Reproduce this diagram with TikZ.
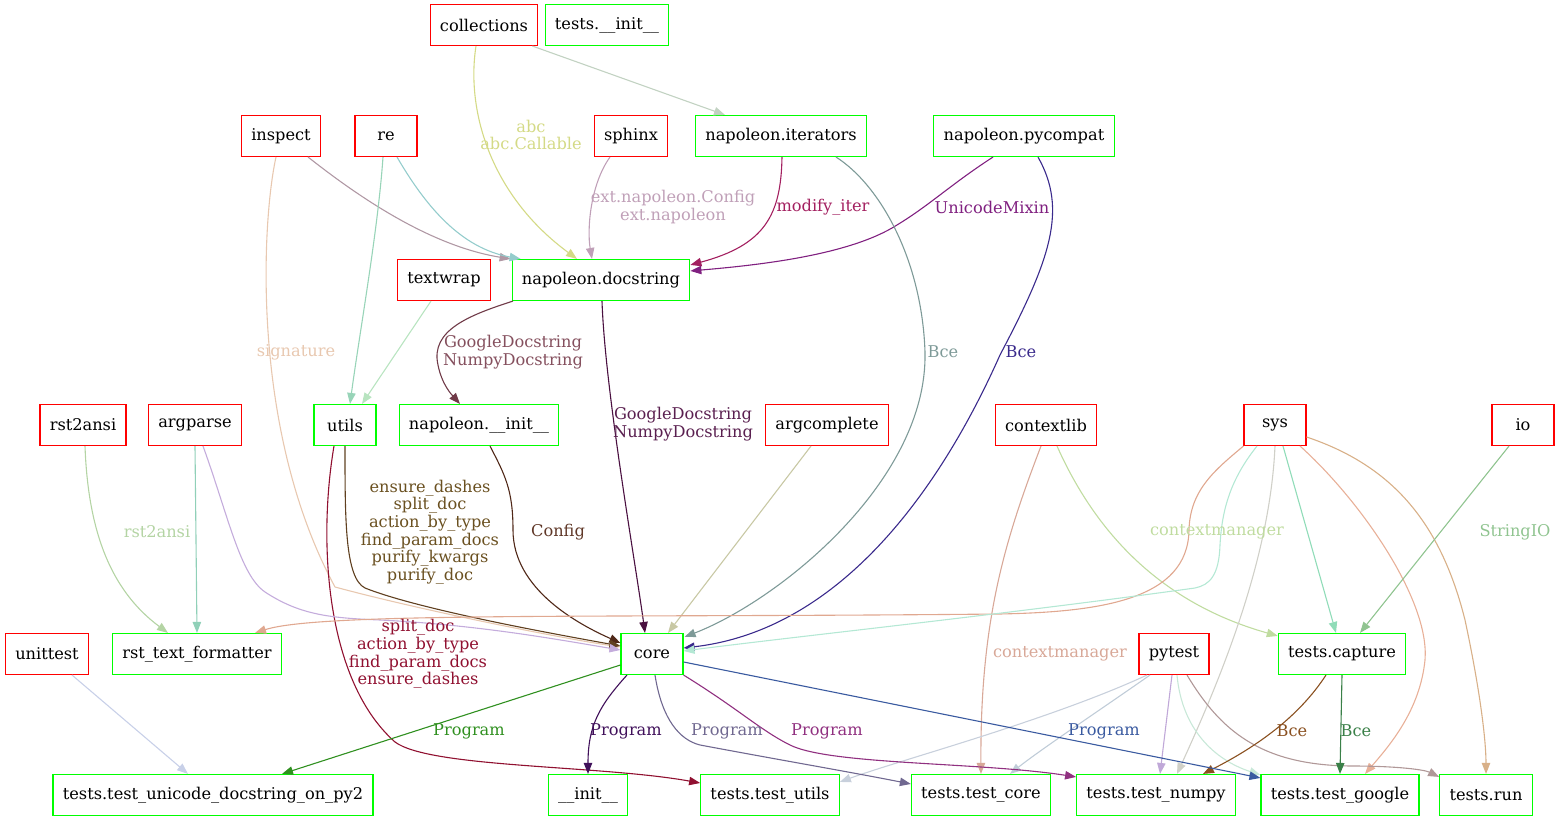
\documentclass[tikz,border=0pt]{standalone}
\usepackage{fontspec}
\setmainfont{DejaVu Serif}
\usepackage{tikz}
\usetikzlibrary{arrows.meta}
\usetikzlibrary{calc}
\usepackage{xcolor}

\definecolor{cAbc}{HTML}{D4DA86}
\definecolor{cColIt}{HTML}{C2D2C2}
\definecolor{cInsp}{HTML}{B098A4}
\definecolor{cRe}{HTML}{94CCCC}
\definecolor{cSig}{HTML}{E8C8B0}
\definecolor{cReU}{HTML}{98D4B8}
\definecolor{cTw}{HTML}{B8E4C0}
\definecolor{cSph}{HTML}{C0A0B8}
\definecolor{cIter}{HTML}{A32060}
\definecolor{cPyc}{HTML}{802080}
\definecolor{cItCore}{HTML}{7E9A98}
\definecolor{cPycCore}{HTML}{3A2A8C}
\definecolor{cDsInit}{HTML}{703A48}
\definecolor{cDsInitL}{HTML}{85505E}
\definecolor{cDsCore}{HTML}{4A1040}
\definecolor{cDsCoreL}{HTML}{5A2050}
\definecolor{cInitCore}{HTML}{502818}
\definecolor{cInitCoreL}{HTML}{603828}
\definecolor{cUtCore}{HTML}{604020}
\definecolor{cUtCoreL}{HTML}{6A5020}
\definecolor{cUtTest}{HTML}{901030}
\definecolor{cRstA}{HTML}{B4D4A4}
\definecolor{cArgR}{HTML}{90D0B8}
\definecolor{cArgC}{HTML}{C4ACDC}
\definecolor{cArgCo}{HTML}{C8C8A4}
\definecolor{cSysR}{HTML}{E0A890}
\definecolor{cSysC}{HTML}{B4E8D4}
\definecolor{cSysCap}{HTML}{90DCB8}
\definecolor{cSysNp}{HTML}{D0D0C8}
\definecolor{cSysGo}{HTML}{E8B098}
\definecolor{cSysRun}{HTML}{D8B088}
\definecolor{cIo}{HTML}{90C490}
\definecolor{cCtxCap}{HTML}{C0DCA0}
\definecolor{cCtxCo}{HTML}{D8A898}
\definecolor{cPyU}{HTML}{C8D0DC}
\definecolor{cPyC}{HTML}{C0CCD8}
\definecolor{cPyN}{HTML}{C0A8D8}
\definecolor{cPyG}{HTML}{C8E8D8}
\definecolor{cPyR}{HTML}{B09898}
\definecolor{cCapN}{HTML}{8A5020}
\definecolor{cCapG}{HTML}{3A8048}
\definecolor{cUni}{HTML}{C8D0E8}
\definecolor{cCoreU}{HTML}{309020}
\definecolor{cCoreI}{HTML}{40105A}
\definecolor{cCoreC}{HTML}{706890}
\definecolor{cCoreN}{HTML}{903080}
\definecolor{cCoreG}{HTML}{3A5AA0}

\begin{document}
\begin{tikzpicture}[x=0.5pt,y=-0.5pt,
  box/.style={rectangle, line width=0.55pt, minimum height=20.5pt, minimum width=31pt,
    inner xsep=4.9pt, font=\fontsize{8.1}{9}\selectfont},
  ext/.style={box, draw=red},
  mod/.style={box, draw=green},
  dep/.style={line width=0.55pt, -{Triangle[length=5.5pt,width=4.2pt]}},
  lbl/.style={inner sep=0pt, align=center, font=\fontsize{8.1}{8.8}\selectfont}]
\useasboundingbox (0,0) rectangle (1560,822);

% modules
\node [ext] (collections) at (484,25) {collections};
\node [mod] (testsinit) at (607,25) {tests.\_\_init\_\_};
\node [ext] (inspect) at (281,136) {inspect};
\node [ext] (re) at (386,136) {re};
\node [ext] (sphinx) at (631,136) {sphinx};
\node [mod] (iterators) at (781,136) {napoleon.iterators};
\node [mod] (pycompat) at (1024,136) {napoleon.pycompat};
\node [ext] (textwrap) at (444,280) {textwrap};
\node [mod] (docstring) at (601,280) {napoleon.docstring};
\node [ext] (rsttwoansi) at (83,425) {rst2ansi};
\node [ext] (argparse) at (195,425) {argparse};
\node [mod] (utils) at (345,425) {utils};
\node [mod] (napinit) at (479,425) {napoleon.\_\_init\_\_};
\node [ext] (argcomplete) at (827,425) {argcomplete};
\node [ext] (contextlib) at (1046,425) {contextlib};
\node [ext] (sys) at (1275,425) {sys};
\node [ext] (io) at (1523,425) {io};
\node [ext] (unittest) at (47,654) {unittest};
\node [mod] (rsttf) at (197,654) {rst\_text\_formatter};
\node [mod] (core) at (652,654) {core};
\node [ext] (pytest) at (1174,654) {pytest};
\node [mod] (capture) at (1342,654) {tests.capture};
\node [mod] (unicode) at (213,795) {tests.test\_unicode\_docstring\_on\_py2};
\node [mod] (init) at (588,795) {\_\_init\_\_};
\node [mod] (testutils) at (770,795) {tests.test\_utils};
\node [mod] (testcore) at (981,795) {tests.test\_core};
\node [mod] (testnumpy) at (1156,795) {tests.test\_numpy};
\node [mod] (testgoogle) at (1340,795) {tests.test\_google};
\node [mod] (testrun) at (1486,795) {tests.run};

% imports
\draw [dep] [cAbc] ($(collections.south)+(-8,0)$) .. controls (466,110) and (490,195) .. ($(docstring.north)+(-24,0)$);
\draw [dep] [cColIt] ($(collections.south east)+(-6,0)$) -- ($(iterators.north)+(-56,0)$);
\draw [dep] [cInsp] ($(inspect.south)+(27,0)$) .. controls (350,190) and (425,245) .. ($(docstring.north west)+(-1,0)$);
\draw [dep] [cRe] ($(re.south)+(11,0)$) .. controls (425,205) and (460,248) .. ($(docstring.north west)+(9,0)$);
\draw [dep] [cSig] ($(inspect.south)+(-5,0)$) .. controls (262,220) and (250,430) .. (335,587) .. controls (420,610) and (560,638) .. ($(core.west)+(0,-7)$);
\draw [dep] [cReU] ($(re.south)+(-3,0)$) .. controls (378,230) and (360,330) .. ($(utils.north)+(5,0)$);
\draw [dep] [cTw] ($(textwrap.south)+(-13,0)$) -- ($(utils.north)+(17,0)$);
\draw [dep] [cSph] ($(sphinx.south)+(-21,0)$) .. controls (590,185) and (587,230) .. ($(docstring.north)+(-9,0)$);
\draw [dep] [cIter] ($(iterators.south)+(1,0)$) .. controls (781,215) and (765,245) .. ($(docstring.north east)+(0,6)$);
\draw [dep] [cPyc] ($(pycompat.south)+(-31,0)$) .. controls (950,185) and (930,205) .. (897,225) .. controls (850,255) and (760,265) .. ($(docstring.north east)+(0,12)$);
\draw [dep] [cItCore] ($(iterators.south)+(55,0)$) .. controls (880,185) and (922,260) .. (925,352) .. controls (928,480) and (780,600) .. ($(core.north east)+(1,4)$);
\draw [dep] [cPycCore] ($(pycompat.south)+(14,0)$) .. controls (1068,210) and (1050,260) .. (1000,355) .. controls (940,490) and (840,630) .. ($(core.east)+(0,-6)$);
\draw [dep] [cDsInit] ($(docstring.south)+(-88,0)$) .. controls (470,315) and (430,330) .. (438,365) .. controls (442,385) and (452,395) .. ($(napinit.north)+(-19,0)$);
\draw [dep] [cDsCore] ($(docstring.south)+(1,0)$) .. controls (605,390) and (635,560) .. ($(core.north)+(-7,0)$);
\draw [dep] [cInitCore] ($(napinit.south)+(11,0)$) .. controls (505,475) and (513,490) .. (513,530) .. controls (513,590) and (580,625) .. ($(core.west)+(0,-11)$);
\draw [dep] [cUtCore] (utils.south) .. controls (345,520) and (345,578) .. (365,588) .. controls (420,610) and (560,635) .. ($(core.west)+(0,-8)$);
\draw [dep] [cUtTest] ($(utils.south)+(-11,0)$) .. controls (318,540) and (325,680) .. (395,742) .. controls (430,768) and (600,765) .. ($(testutils.west)+(0,-12)$);
\draw [dep] [cRstA] ($(rsttwoansi.south)+(2,0)$) .. controls (88,530) and (110,590) .. ($(rsttf.north)+(-29,0)$);
\draw [dep] [cArgR] (argparse.south) -- (rsttf.north);
\draw [dep] [cArgC] ($(argparse.south)+(8,0)$) .. controls (228,515) and (240,575) .. (265,592) .. controls (300,615) and (330,618) .. (380,620) .. controls (480,625) and (560,640) .. ($(core.west)+(0,-4)$);
\draw [dep] [cArgCo] ($(argcomplete.south)+(-16,0)$) -- ($(core.north)+(16,0)$);
\draw [dep] [cCtxCap] ($(contextlib.south)+(11,0)$) .. controls (1090,520) and (1150,600) .. ($(capture.north west)+(0,3)$);
\draw [dep] [cCtxCo] ($(contextlib.south)+(-5,0)$) .. controls (1005,540) and (980,620) .. (testcore.north);
\draw [dep] [cSysR] (sys.south west) .. controls (1215,470) and (1190,490) .. (1189,530) .. controls (1188,600) and (1100,612) .. (1000,614) .. controls (600,618) and (320,612) .. ($(rsttf.north)+(58,0)$);
\draw [dep] [cSysC] ($(sys.south)+(-18,0)$) .. controls (1230,480) and (1222,510) .. (1220,545) .. controls (1219,575) and (1210,585) .. (1195,588) .. controls (1000,615) and (800,636) .. ($(core.east)+(0,-3)$);
\draw [dep] [cSysCap] ($(sys.south)+(8,0)$) -- ($(capture.north)+(-6,0)$);
\draw [dep] [cSysNp] (sys.south) .. controls (1270,560) and (1220,680) .. ($(testnumpy.north)+(21,0)$);
\draw [dep] [cSysGo] ($(sys.south)+(25,0)$) .. controls (1360,500) and (1430,600) .. (1425,660) .. controls (1420,710) and (1390,745) .. ($(testgoogle.north)+(25,0)$);
\draw [dep] [cSysRun] ($(sys.east)+(0,12)$) .. controls (1390,465) and (1440,520) .. (1465,620) .. controls (1480,690) and (1486,740) .. (testrun.north);
\draw [dep] [cIo] ($(io.south)+(-14,0)$) -- ($(capture.north)+(18,0)$);
\draw [dep] [cPyU] ($(pytest.south)+(-27,0)$) .. controls (1050,720) and (900,760) .. ($(testutils.north east)+(0,8)$);
\draw [dep] [cPyC] ($(pytest.south)+(-24,0)$) .. controls (1100,710) and (1040,750) .. ($(testcore.north)+(29,0)$);
\draw [dep] [cPyN] ($(pytest.south)+(-2,0)$) -- ($(testnumpy.north)+(4,0)$);
\draw [dep] [cPyG] ($(pytest.south)+(3,0)$) .. controls (1182,730) and (1215,760) .. ($(testgoogle.north west)+(0,1)$);
\draw [dep] [cPyR] ($(pytest.south)+(13,0)$) .. controls (1220,730) and (1260,765) .. (1350,766) .. controls (1400,766) and (1425,770) .. ($(testrun.north west)+(0,3)$);
\draw [dep] [cCapN] ($(capture.south)+(-16,0)$) .. controls (1300,715) and (1260,745) .. ($(testnumpy.north)+(47,0)$);
\draw [dep] [cCapG] (capture.south) -- (testgoogle.north);
\draw [dep] [cUni] ($(unittest.south)+(25,0)$) -- ($(unicode.north)+(-25,0)$);
\draw [dep] [cCoreU] ($(core.west)+(0,11)$) -- ($(unicode.north)+(69,0)$);
\draw [dep] [cCoreI] ($(core.south)+(-25,0)$) .. controls (600,705) and (588,725) .. (init.north);
\draw [dep] [cCoreC] ($(core.south)+(3,0)$) .. controls (662,720) and (680,740) .. (700,745) .. controls (780,760) and (850,772) .. ($(testcore.west)+(0,-11)$);
\draw [dep] [cCoreN] (core.south east) .. controls (740,710) and (760,730) .. (790,745) .. controls (830,765) and (980,762) .. ($(testnumpy.north west)+(0,3)$);
\draw [dep] [cCoreG] ($(core.east)+(0,8)$) -- ($(testgoogle.north west)+(0,4)$);

% labels
\node [lbl] [cAbc] (lAbc) at (531,135) {abc\\abc.Callable};
\node [lbl] [cSig] (lSig) at (296,352) {signature};
\node [lbl] [cSph] (lSph) at (673,207) {ext.napoleon.Config\\ext.napoleon};
\node [lbl] [cIter] (lIter) at (823,207) {modify\_iter};
\node [lbl] [cPyc] (lPyc) at (992,207) {UnicodeMixin};
\node [lbl] [cItCore] (lItCore) at (943,352) {Bce};
\node [lbl] [cPycCore] (lPycCore) at (1021,352) {Bce};
\node [lbl] [cDsInitL] (lDsInit) at (513,352) {GoogleDocstring\\NumpyDocstring};
\node [lbl] [cDsCoreL] (lDsCore) at (683,424) {GoogleDocstring\\NumpyDocstring};
\node [lbl] [cInitCoreL] (lInitCore) at (558,532) {Config};
\node [lbl] [cUtCoreL] (lUtCore) at (430,532) {ensure\_dashes\\split\_doc\\action\_by\_type\\find\_param\_docs\\purify\_kwargs\\purify\_doc};
\node [lbl] [cUtTest] (lUtTest) at (418,654) {split\_doc\\action\_by\_type\\find\_param\_docs\\ensure\_dashes};
\node [lbl] [cRstA] (lRstA) at (157,532) {rst2ansi};
\node [lbl] [cCtxCap] (lCtxCap) at (1217,532) {contextmanager};
\node [lbl] [cIo] (lIo) at (1515,532) {StringIO};
\node [lbl] [cCtxCo] (lCtxCo) at (1060,654) {contextmanager};
\node [lbl] [cCapN] (lCapN) at (1292,731) {Bce};
\node [lbl] [cCapG] (lCapG) at (1356,731) {Bce};
\node [lbl] [cCoreU] (lCoreU) at (469,731) {Program};
\node [lbl] [cCoreI] (lCoreI) at (626,731) {Program};
\node [lbl] [cCoreC] (lCoreC) at (727,731) {Program};
\node [lbl] [cCoreN] (lCoreN) at (827,731) {Program};
\node [lbl] [cCoreG] (lCoreG) at (1104,731) {Program};
\end{tikzpicture}
\end{document}
